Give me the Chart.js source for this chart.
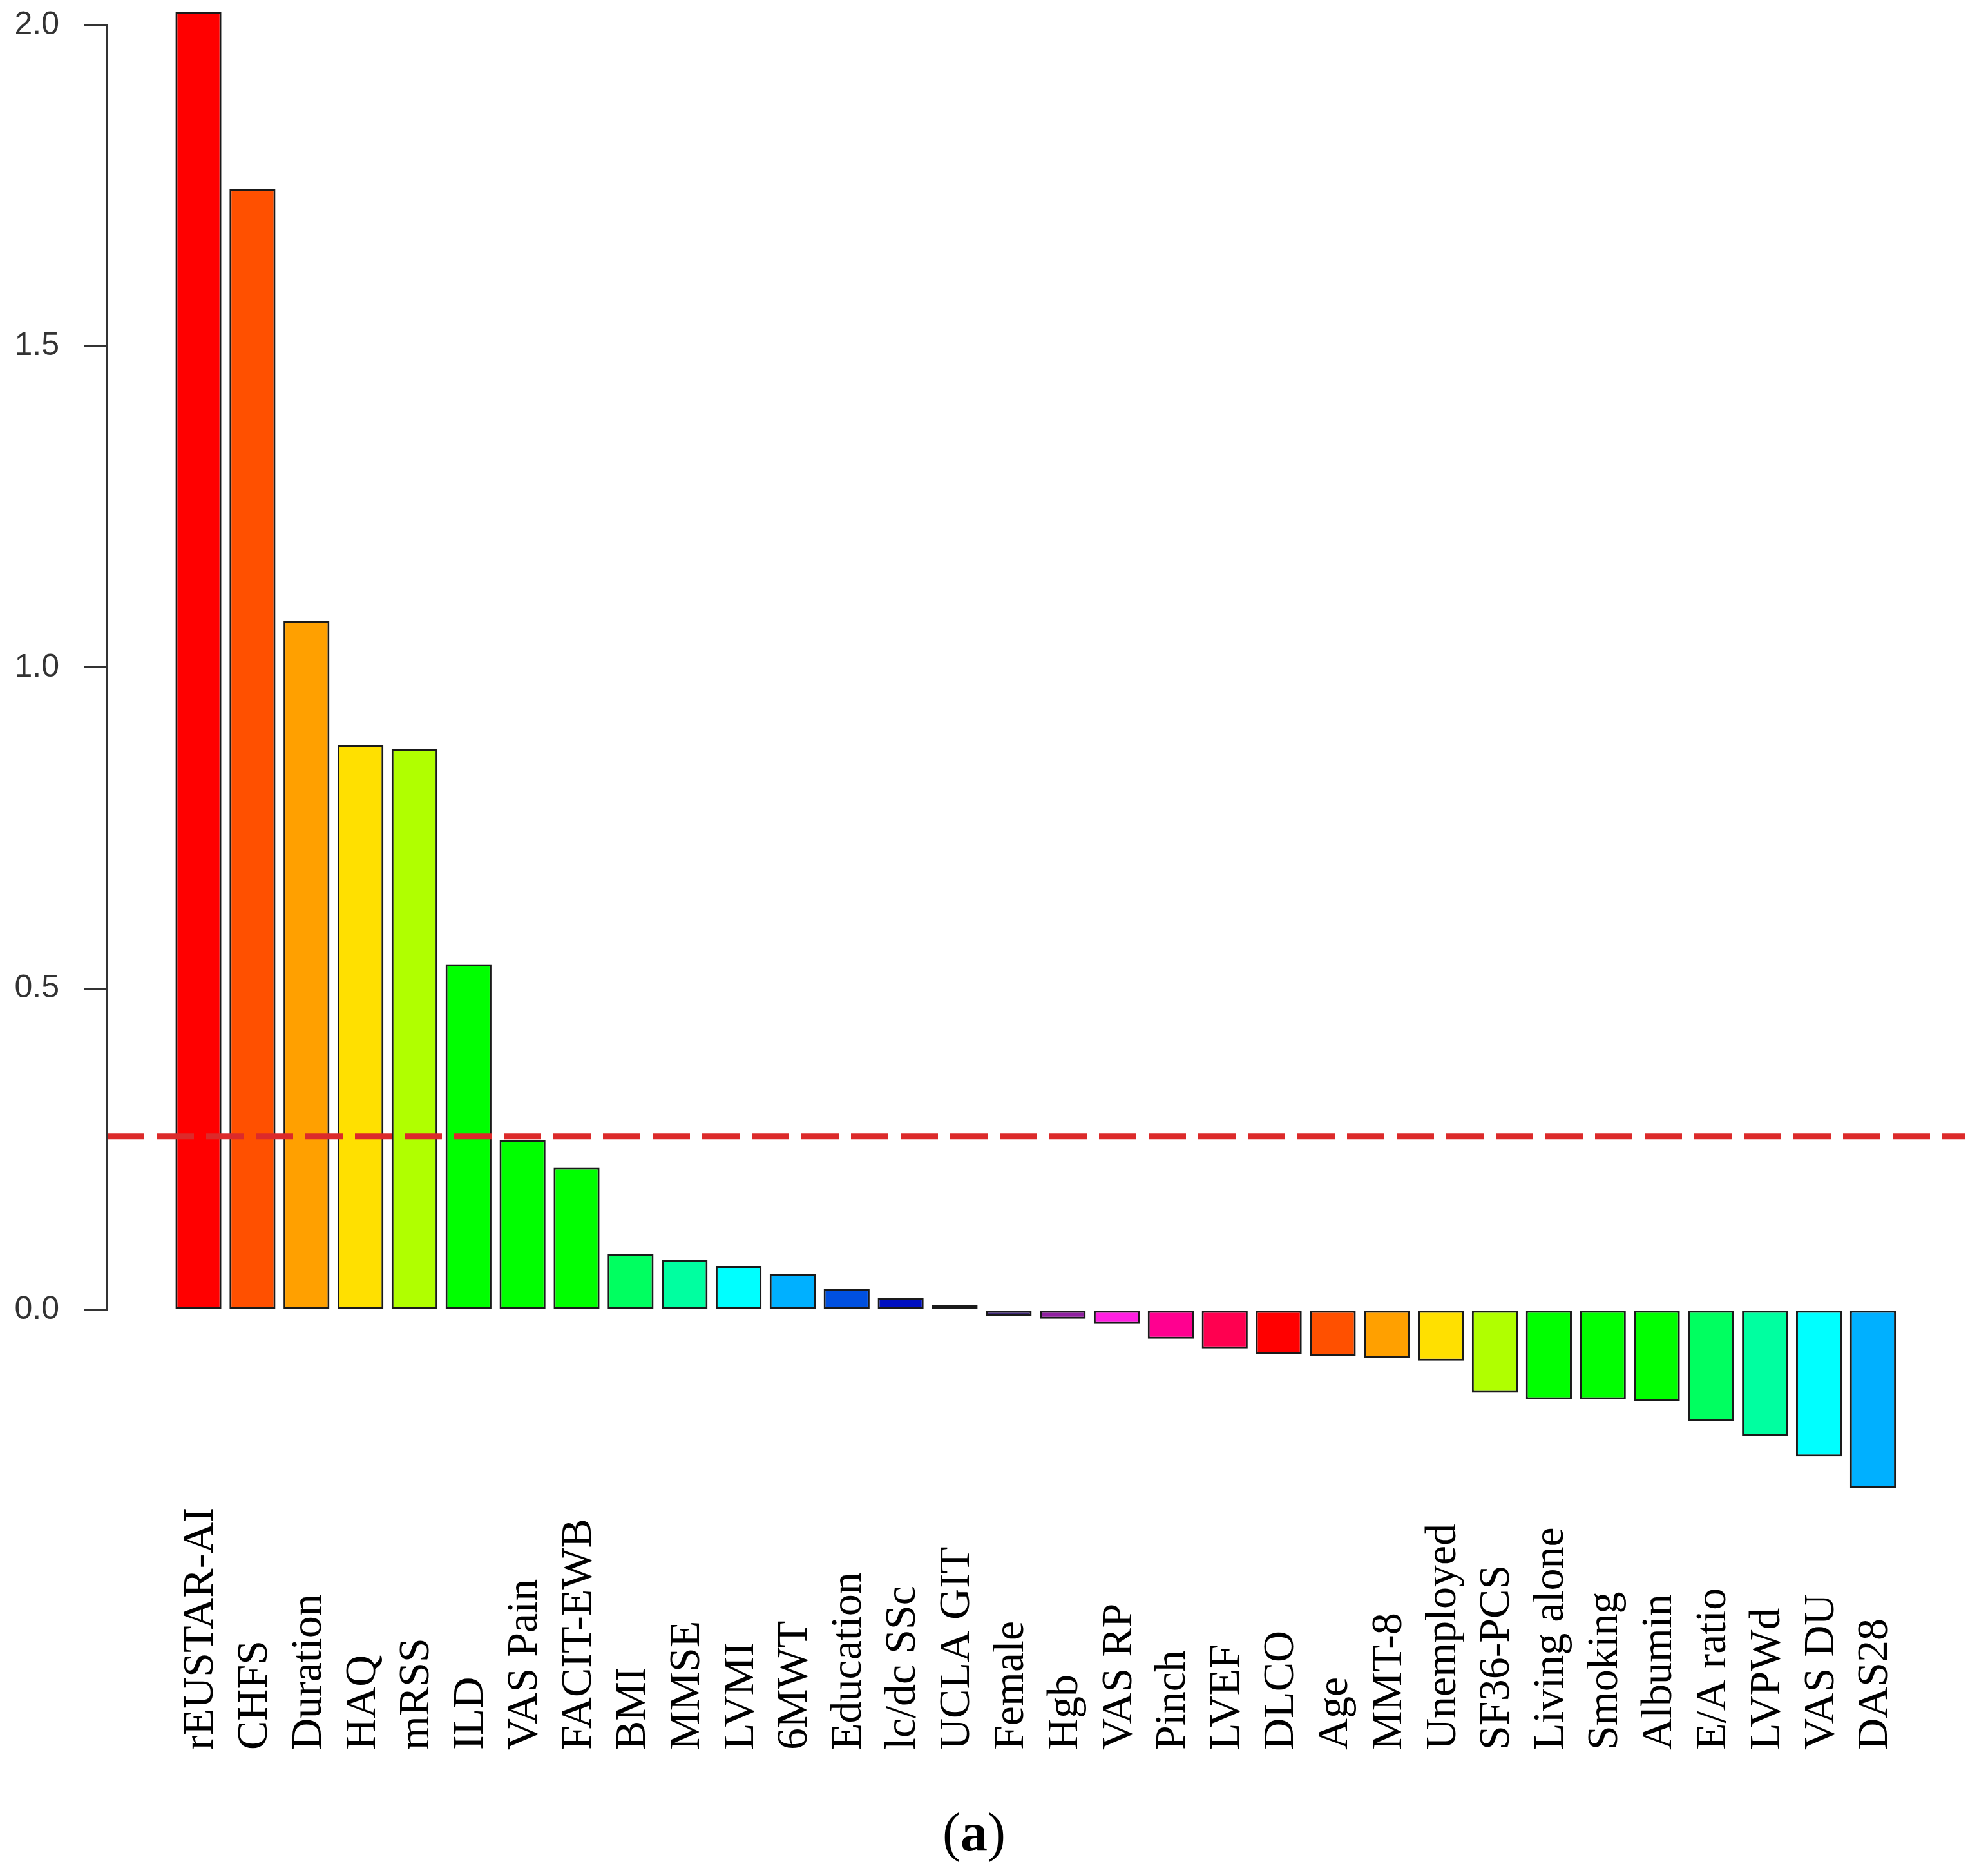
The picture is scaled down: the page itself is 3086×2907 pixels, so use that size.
<!DOCTYPE html>
<html>
<head>
<meta charset="utf-8">
<title>Variable importance</title>
<script src="https://cdn.jsdelivr.net/npm/chart.js@4.4.1/dist/chart.umd.min.js"></script>
<style>
  html, body { margin: 0; padding: 0; background: #fff; }
  canvas { display: block; }
</style>
</head>
<body>
<canvas id="myChart" width="3086" height="2907"></canvas>
<script>
(function () {
  'use strict';

  // data
  var categories = ['rEUSTAR-AI', 'CHFS', 'Duration', 'HAQ', 'mRSS', 'ILD', 'VAS Pain', 'FACIT-EWB',
    'BMI', 'MMSE', 'LVMI', '6MWT', 'Education', 'lc/dc SSc', 'UCLA GIT', 'Female', 'Hgb', 'VAS RP',
    'Pinch', 'LVEF', 'DLCO', 'Age', 'MMT-8', 'Unemployed', 'SF36-PCS', 'Living alone', 'Smoking',
    'Albumin', 'E/A ratio', 'LVPWd', 'VAS DU', 'DAS28'];
  var values = [2.02, 1.745, 1.072, 0.879, 0.873, 0.538, 0.264, 0.221,
    0.087, 0.078, 0.068, 0.055, 0.032, 0.018, 0.007, -0.010, -0.014, -0.022,
    -0.045, -0.060, -0.069, -0.072, -0.075, -0.079, -0.129, -0.139, -0.139,
    -0.142, -0.173, -0.196, -0.228, -0.278];
  var yTicks = [0, 0.5, 1.0, 1.5, 2.0];
  var cutoff = 0.27;
  var caption = 'a';

  var barColors = ['#ff0000', '#ff5000', '#ffa000', '#ffe000', '#b0ff00', '#00ff00', '#00ff00', '#00ff00',
    '#00ff60', '#00ffa0', '#00ffff', '#00b0ff', '#0050e0', '#0010c0', '#101048', '#402878', '#9020a0',
    '#ff20e0', '#ff0090', '#ff0050', '#ff0000', '#ff5000', '#ffa000', '#ffe000', '#b0ff00', '#00ff00',
    '#00ff00', '#00ff00', '#00ff60', '#00ffa0', '#00ffff', '#00b0ff'];

  var points = values.map(function (v, i) { return { x: i, y: v }; });

  // axis line only from first to last tick, dashed cutoff, rotated labels, caption
  var extras = {
    id: 'extras',
    afterDatasetsDraw: function (chart) {
      var ctx = chart.ctx;
      var y = chart.scales.y;
      var area = chart.chartArea;
      ctx.save();
      ctx.strokeStyle = '#dc2a2a';
      ctx.lineWidth = 9;
      ctx.setLineDash([58, 19]);
      ctx.beginPath();
      ctx.moveTo(area.left, y.getPixelForValue(cutoff));
      ctx.lineTo(area.right, y.getPixelForValue(cutoff));
      ctx.stroke();
      ctx.restore();
    },
    afterDraw: function (chart) {
      var ctx = chart.ctx;
      var x = chart.scales.x;
      var y = chart.scales.y;
      var area = chart.chartArea;

      ctx.save();
      ctx.strokeStyle = '#333';
      ctx.lineWidth = 3;
      ctx.beginPath();
      ctx.moveTo(area.left, y.getPixelForValue(yTicks[0]) + 1.5);
      ctx.lineTo(area.left, y.getPixelForValue(yTicks[yTicks.length - 1]) - 1.5);
      ctx.stroke();
      ctx.restore();

      ctx.save();
      ctx.fillStyle = '#000';
      ctx.font = '68px "Liberation Serif", "Times New Roman", serif';
      ctx.textAlign = 'left';
      ctx.textBaseline = 'alphabetic';
      categories.forEach(function (c, i) {
        ctx.save();
        ctx.translate(x.getPixelForValue(i) + 22, 2716);
        ctx.rotate(-Math.PI / 2);
        ctx.fillText(c, 0, 0);
        ctx.restore();
      });
      ctx.restore();

      // "(a)" with bold letter
      ctx.save();
      ctx.fillStyle = '#000';
      ctx.textBaseline = 'alphabetic';
      ctx.textAlign = 'left';
      var reg = '84px "Liberation Serif", "Times New Roman", serif';
      var bold = 'bold 84px "Liberation Serif", "Times New Roman", serif';
      ctx.font = reg;
      var wp = ctx.measureText('(').width;
      var wq = ctx.measureText(')').width;
      ctx.font = bold;
      var wa = ctx.measureText(caption).width;
      var cx = 1512 - (wp + wa + wq) / 2;
      var by = 2872;
      ctx.font = reg;
      ctx.fillText('(', cx, by);
      ctx.font = bold;
      ctx.fillText(caption, cx + wp, by);
      ctx.font = reg;
      ctx.fillText(')', cx + wp + wa, by);
      ctx.restore();
    }
  };

  var ctx = document.getElementById('myChart').getContext('2d');
  var myChart = new Chart(ctx, {
    type: 'bar',
    data: {
      datasets: [{
        data: points,
        backgroundColor: barColors,
        borderColor: '#1a1a1a',
        borderWidth: 3,
        borderSkipped: false,
        categoryPercentage: 1,
        barPercentage: 0.85
      }]
    },
    options: {
      responsive: false,
      devicePixelRatio: 1,
      animation: false,
      layout: {
        padding: { left: 0, right: 36, top: 9, bottom: 575 }
      },
      plugins: {
        legend: { display: false },
        tooltip: { enabled: false },
        title: { display: false }
      },
      scales: {
        x: {
          type: 'linear',
          display: false,
          offset: false,
          grid: { offset: false },
          min: -1.694,
          max: 32.70
        },
        y: {
          min: -0.30,
          max: 2.03,
          afterBuildTicks: function (s) {
            s.ticks = yTicks.map(function (v) { return { value: v }; });
          },
          afterFit: function (s) {
            s.width = 166;
            s.paddingTop = 0;
            s.paddingBottom = 0;
          },
          border: { display: false },
          grid: {
            drawOnChartArea: false,
            drawTicks: true,
            tickLength: 36,
            color: '#333',
            lineWidth: 3
          },
          ticks: {
            padding: 38,
            color: '#333',
            font: { family: '"Liberation Sans", Arial, sans-serif', size: 50 },
            callback: function (v) { return Number(v).toFixed(1); }
          }
        }
      }
    },
    plugins: [extras]
  });
})();
</script>
</body>
</html>
